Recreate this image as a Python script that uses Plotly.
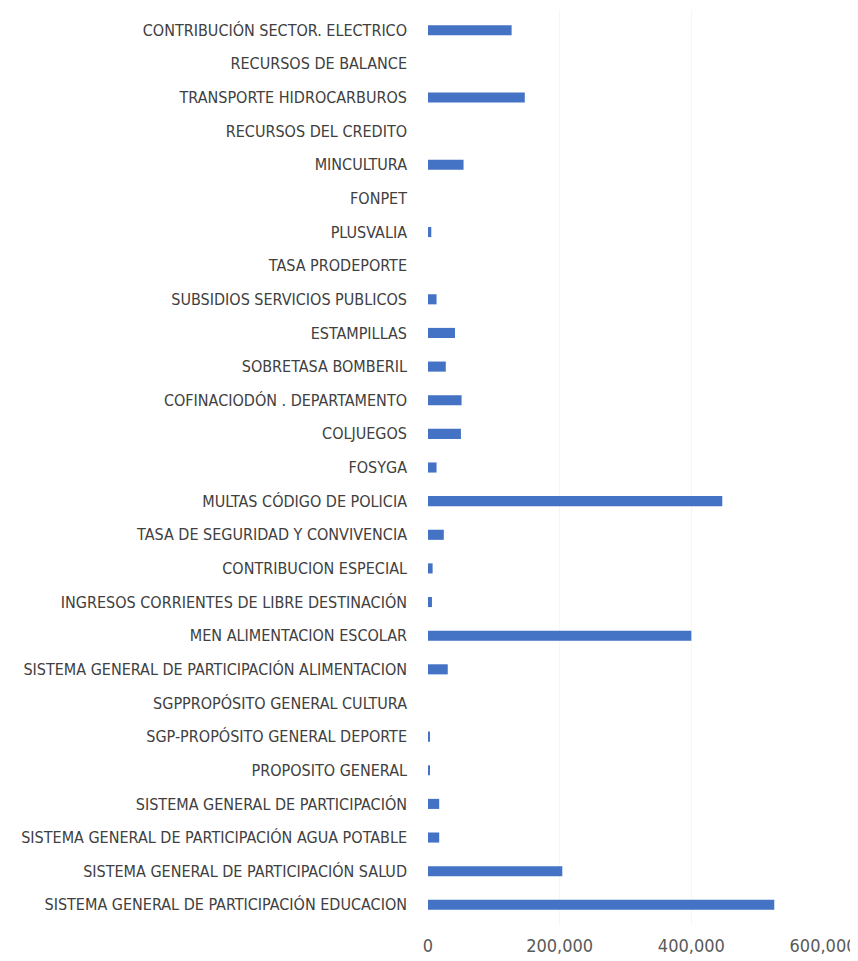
import plotly.graph_objects as go

# Categories listed top-to-bottom as in the reference
categories = [
    "CONTRIBUCIÓN SECTOR. ELECTRICO",
    "RECURSOS DE BALANCE",
    "TRANSPORTE HIDROCARBUROS",
    "RECURSOS DEL CREDITO",
    "MINCULTURA",
    "FONPET",
    "PLUSVALIA",
    "TASA PRODEPORTE",
    "SUBSIDIOS SERVICIOS PUBLICOS",
    "ESTAMPILLAS",
    "SOBRETASA BOMBERIL",
    "COFINACIODÓN . DEPARTAMENTO",
    "COLJUEGOS",
    "FOSYGA",
    "MULTAS CÓDIGO DE POLICIA",
    "TASA DE SEGURIDAD Y CONVIVENCIA",
    "CONTRIBUCION ESPECIAL",
    "INGRESOS CORRIENTES DE LIBRE DESTINACIÓN",
    "MEN ALIMENTACION ESCOLAR",
    "SISTEMA GENERAL DE PARTICIPACIÓN ALIMENTACION",
    "SGPPROPÓSITO GENERAL CULTURA",
    "SGP-PROPÓSITO GENERAL DEPORTE",
    "PROPOSITO GENERAL",
    "SISTEMA GENERAL DE PARTICIPACIÓN",
    "SISTEMA GENERAL DE PARTICIPACIÓN AGUA POTABLE",
    "SISTEMA GENERAL DE PARTICIPACIÓN SALUD",
    "SISTEMA GENERAL DE PARTICIPACIÓN EDUCACION",
]
values = [
    127000, 0, 147000, 0, 54000, 0, 5000, 0, 13000, 41000,
    27000, 51000, 50000, 13000, 447000, 24000, 7000, 6000,
    400000, 30000, 0, 2000, 2000, 17000, 17000, 204000, 526000,
]
x_ticks = [0, 200000, 400000, 600000]
x_tick_labels = ["0", "200,000", "400,000", "600,000"]

# plotly draws the first category at the bottom, so reverse
cats_plot = categories[::-1]
vals_plot = values[::-1]

FONT = "DejaVu Sans Condensed, Liberation Sans Narrow, sans-serif"

fig = go.Figure(go.Bar(
    x=vals_plot, y=cats_plot, orientation="h",
    marker=dict(color="#4472C4", line=dict(width=0)),
    width=0.3,
))

fig.update_layout(
    width=850, height=953,
    margin=dict(l=420, r=35, t=2, b=36, autoexpand=False),
    paper_bgcolor="white", plot_bgcolor="white",
    showlegend=False,
    font=dict(family=FONT, color="#404040"),
)
fig.update_xaxes(
    range=[0, 600000], tickvals=x_ticks, ticktext=x_tick_labels,
    showgrid=True, gridcolor="#f6f6f6", zeroline=False, showline=False,
    tickfont=dict(size=18, color="#5a5a5a", family=FONT),
    ticks="", automargin=False, ticklabelstandoff=8,
)
fig.update_yaxes(
    categoryorder="array", categoryarray=cats_plot,
    showgrid=False, showline=False, ticks="",
    tickfont=dict(size=16, color="#404040", family=FONT),
    ticklabelstandoff=20, automargin=False,
    range=[-0.6, len(cats_plot) - 0.4],
)

fig.write_html("out.html")
